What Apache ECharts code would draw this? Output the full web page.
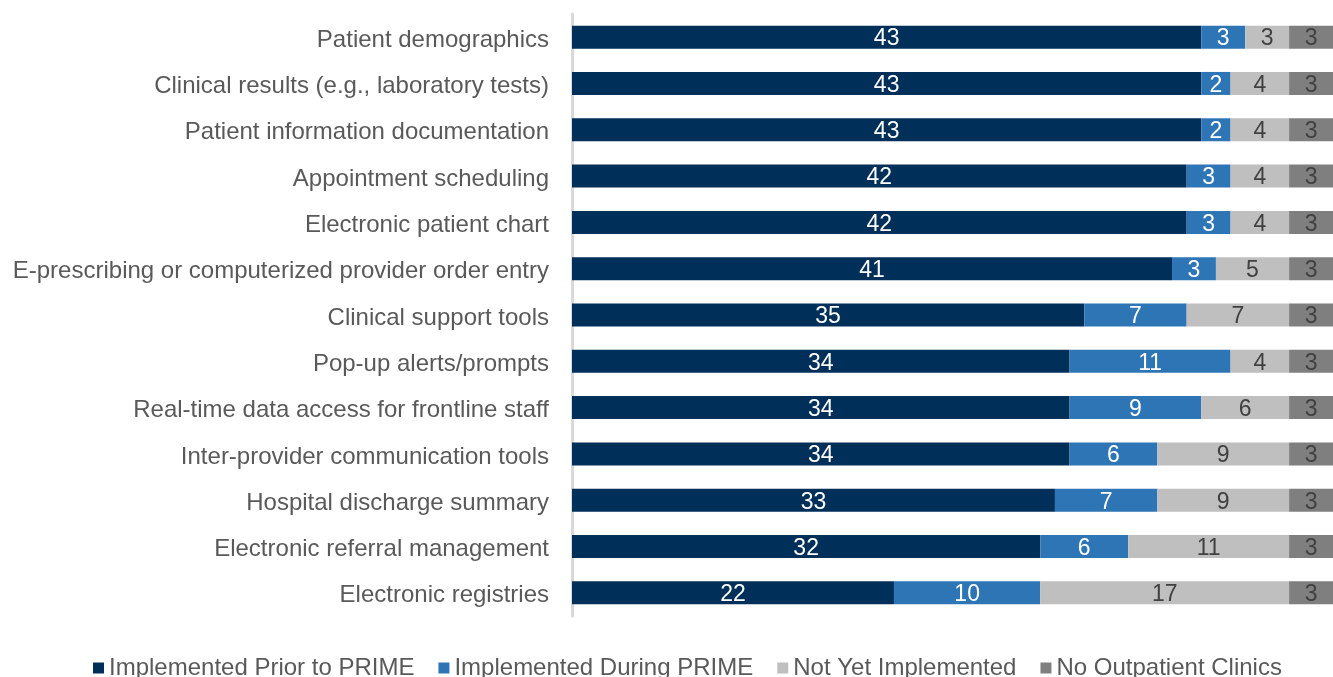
<!DOCTYPE html>
<html><head><meta charset="utf-8">
<script src="https://cdn.jsdelivr.net/npm/echarts@6/dist/echarts.min.js"></script>
<style>html,body{margin:0;padding:0;background:#fff}#c{width:1333px;height:677px}</style>
</head><body><div id="c"></div>
<script>
const categories = ["Patient demographics","Clinical results (e.g., laboratory tests)","Patient information documentation","Appointment scheduling","Electronic patient chart","E-prescribing or computerized provider order entry","Clinical support tools","Pop-up alerts/prompts","Real-time data access for frontline staff","Inter-provider communication tools","Hospital discharge summary","Electronic referral management","Electronic registries"];
const seriesNames = ["Implemented Prior to PRIME","Implemented During PRIME","Not Yet Implemented","No Outpatient Clinics"];
const priorPrime = [43,43,43,42,42,41,35,34,34,34,33,32,22];
const duringPrime = [3,2,2,3,3,3,7,11,9,6,7,6,10];
const notYet = [3,4,4,4,4,5,7,4,6,9,9,11,17];
const noClinics = [3,3,3,3,3,3,3,3,3,3,3,3,3];
const colors = ["#002f5a","#2e75b6","#bfbfbf","#7f7f7f"];
const labelColors = ["#ffffff","#ffffff","#404040","#404040"];
const data = [priorPrime, duringPrime, notYet, noClinics];
const font = "Liberation Sans, Arial, sans-serif";
const chart = echarts.init(document.getElementById('c'));
chart.setOption({
  animation:false,
  grid:{left:572,right:0,top:14,bottom:61,containLabel:false},
  legend:{top:651,left:88,itemWidth:11,itemHeight:11,itemGap:24,icon:'rect',
    textStyle:{fontFamily:font,fontSize:24,color:'#595959'},
    data:seriesNames},
  xAxis:{type:'value',min:0,max:52,show:false},
  yAxis:{type:'category',data:categories,inverse:true,offset:2,
    axisLine:{show:true,lineStyle:{color:'#d9d9d9',width:3}},
    axisTick:{show:false},
    axisLabel:{margin:21,fontFamily:font,fontSize:24,color:'#595959',
      formatter:v=>'{a|'+v+'}',
      rich:{a:{fontFamily:font,fontSize:24,color:'#595959',padding:[6,0,0,0]}}}},
  series:data.map((d,i)=>({
    name:seriesNames[i],type:'bar',stack:'total',barWidth:23,data:d,
    itemStyle:{color:colors[i]},
    label:{show:true,position:'inside',offset:[0,2],fontFamily:font,fontSize:23,color:labelColors[i]}
  }))
});
</script></body></html>
